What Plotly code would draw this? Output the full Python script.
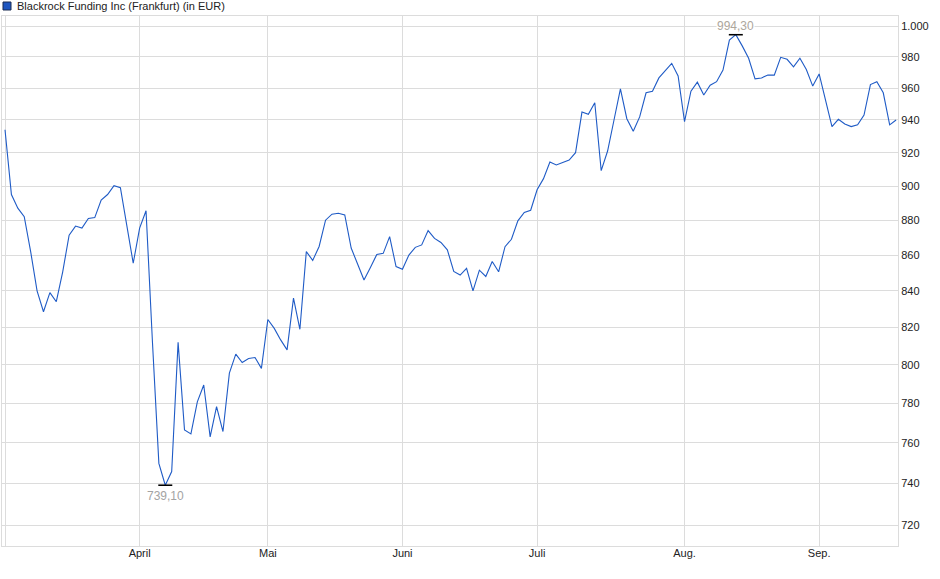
import math
import pandas as pd
import plotly.graph_objects as go

# ---- data -------------------------------------------------------------
title_text = "Blackrock Funding Inc (Frankfurt) (in EUR)"
holidays = ["2025-04-18", "2025-04-21", "2025-05-01"]
month_labels = ["April", "Mai", "Juni", "Juli", "Aug.", "Sep."]
y_ticks = [720, 740, 760, 780, 800, 820, 840, 860, 880, 900, 920, 940, 960, 980, 1000]

prices = [
    934.0, 895.0, 887.0, 882.0, 862.0, 840.0, 828.5, 839.0, 834.0, 850.6,
    871.4, 876.6, 875.4, 881.0, 881.5, 891.7, 895.0, 900.2, 899.0, 878.0,
    855.4, 875.4, 885.5, 812.0, 749.8, 739.1, 745.8, 812.0, 766.5, 764.5,
    780.8, 789.5, 763.0, 778.3, 765.7, 795.7, 805.7, 801.3, 803.4, 803.9,
    798.2, 824.3, 819.5, 813.3, 808.0, 836.0, 819.0, 862.0, 857.0, 864.9,
    880.0, 883.5, 884.0, 883.0, 864.0, 855.0, 846.0, 853.0, 860.4, 861.0,
    870.5, 853.5, 852.0, 860.0, 864.4, 865.8, 874.0, 869.5, 867.2, 863.0,
    850.8, 848.8, 852.5, 840.0, 851.5, 848.0, 856.4, 850.6, 864.8, 869.0,
    879.6, 884.5, 885.8, 897.8, 904.4, 914.4, 912.6, 914.0, 915.5, 920.0,
    944.9, 943.5, 950.7, 909.2, 921.0, 940.0, 959.5, 940.8, 933.0, 941.9,
    957.0, 958.0, 966.4, 971.0, 975.7, 967.6, 939.0, 958.0, 963.7, 955.6,
    961.8, 964.0, 971.4, 990.8, 994.3, 987.0, 979.0, 965.8, 966.4, 968.2,
    968.2, 979.6, 978.3, 973.5, 979.0, 971.8, 961.2, 968.9, 952.4, 935.9,
    940.4, 937.5, 935.9, 937.0, 943.0, 962.2, 964.0, 957.0, 937.0, 940.0,
]

# trading days (Frankfurt) 2025
days = pd.bdate_range("2025-03-03", "2025-09-17")
days = [d for d in days if d.strftime("%Y-%m-%d") not in holidays]
dates = [d.strftime("%Y-%m-%d") for d in days][: len(prices)]

# first trading day of each month (start of series + month starts)
tick_vals = [dates[0]]
tick_text = [""]
seen = {dates[0][:7]}
for d in dates:
    if d[:7] not in seen:
        seen.add(d[:7])
        tick_vals.append(d)
        tick_text.append(month_labels[len(tick_text) - 1])

def de_fmt(v, dec=2):
    s = f"{v:,.{dec}f}"
    return s.replace(",", "X").replace(".", ",").replace("X", ".")

line_color = "#1f5bc6"
grid_color = "#dcdcdc"
font_family = "Liberation Sans, Arial, sans-serif"

i_min = min(range(len(prices)), key=lambda i: prices[i])
i_max = max(range(len(prices)), key=lambda i: prices[i])

fig = go.Figure()
fig.add_trace(go.Scatter(
    x=dates, y=prices, mode="lines",
    line=dict(color=line_color, width=1.1),
    hoverinfo="x+y", showlegend=False,
))
fig.add_trace(go.Scatter(
    x=[dates[i_min], dates[i_max]], y=[prices[i_min], prices[i_max]],
    mode="markers",
    marker=dict(symbol="line-ew", size=10, line=dict(color="#000000", width=1.6)),
    hoverinfo="skip", showlegend=False,
))

fig.add_annotation(
    x=dates[i_min], y=math.log10(prices[i_min]), text=de_fmt(prices[i_min]),
    showarrow=False, yshift=-11, font=dict(family=font_family, size=12, color="#a3a3a3"),
)
fig.add_annotation(
    x=dates[i_max], y=math.log10(prices[i_max]), text=de_fmt(prices[i_max]),
    showarrow=False, yshift=9, bgcolor="white", borderpad=0,
    font=dict(family=font_family, size=12, color="#ada69c"),
)

# legend-like header
fig.add_shape(type="rect", xref="paper", yref="paper",
              x0=1 / 896, x1=9 / 896, y0=1 + 6 / 530, y1=1 + 14 / 530,
              fillcolor="#1f56c0", line=dict(color="#1a2a50", width=1))
fig.add_annotation(
    xref="paper", yref="paper", x=13 / 896, y=1 + 10 / 530, xanchor="left", yanchor="middle",
    text=title_text, showarrow=False,
    font=dict(family=font_family, size=11, color="#222222"),
)

fig.update_layout(
    width=940, height=579,
    margin=dict(l=2, r=42, t=16, b=33),
    paper_bgcolor="white", plot_bgcolor="white",
    font=dict(family=font_family, size=11, color="#222222"),
    hovermode="closest",
)
fig.update_xaxes(
    type="category",
    range=[-0.47, len(prices) - 1 + 0.3],
    tickmode="array", tickvals=tick_vals, ticktext=tick_text,
    showgrid=True, gridcolor=grid_color, gridwidth=1,
    showline=True, linecolor=grid_color, linewidth=1, mirror=True,
    ticks="", ticklabelstandoff=-3,
    tickfont=dict(family=font_family, size=11, color="#222222"),
    zeroline=False,
)
fig.update_yaxes(
    type="log", side="right",
    range=[2.851327, 3.00286],
    tickmode="array", tickvals=y_ticks, ticktext=[de_fmt(v, 0) for v in y_ticks],
    showgrid=True, gridcolor=grid_color, gridwidth=1,
    showline=True, linecolor=grid_color, linewidth=1, mirror=True,
    ticks="", tickfont=dict(family=font_family, size=11, color="#222222"),
    zeroline=False,
)

fig.write_html(
    "out.html",
    config={"displayModeBar": False},
    post_script="document.body.style.margin='0';document.body.style.overflow='hidden';",
)
